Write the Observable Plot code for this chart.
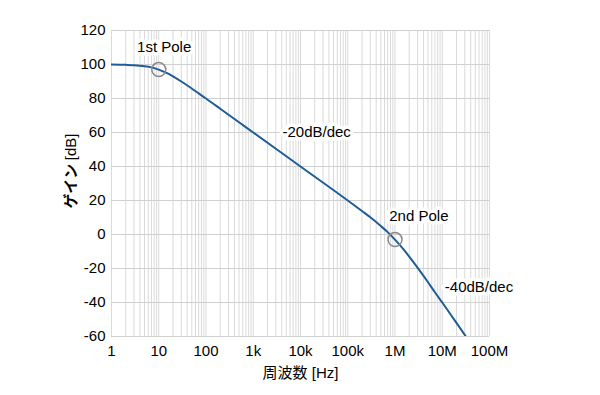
<!DOCTYPE html>
<html>
<head>
<meta charset="utf-8">
<script src="https://cdn.jsdelivr.net/npm/d3@7"></script>
<script src="https://cdn.jsdelivr.net/npm/@observablehq/plot@0.6"></script>
<style>
  html, body { margin: 0; padding: 0; background: #fff; }
</style>
</head>
<body>
<div id="chart"></div>
<script>
// Frequency response
const freq = [1, 2, 3, 5, 7, 10, 15, 20, 30, 50, 70, 100, 200, 500, 1000, 10000, 100000, 200000, 300000, 500000, 700000, 1000000, 1500000, 2000000, 3000000, 5000000, 7000000, 10000000, 20000000, 31600000];
const gain = [100, 99.8, 99.6, 99, 98.3, 97, 94.9, 93, 90, 85.9, 83, 80, 74, 66, 60, 40, 20, 13.8, 10.1, 5, 1.4, -3, -8.6, -13, -19.5, -28.1, -34, -40, -52, -60];

// Pole markers
const poleF = [10, 1000000];
const poleGain = [97, -3];

// Annotations
const annoText = ["1st Pole", "-20dB/dec", "2nd Pole", "-40dB/dec"];
const annoF = [13, 22000, 3200000, 60000000];
const annoGain = [110, 60, 11, -31];

// Axes
const xTicks = [1, 10, 100, 1e3, 1e4, 1e5, 1e6, 1e7, 1e8];
const xTickLabels = ["1", "10", "100", "1k", "10k", "100k", "1M", "10M", "100M"];
const yTicks = [-60, -40, -20, 0, 20, 40, 60, 80, 100, 120];
const xLabel = "周波数 [Hz]";
const yLabelMain = "ゲイン";
const yLabelUnit = "[dB]";

const curve = freq.map((f, i) => ({f, g: gain[i]}));
const poles = poleF.map((f, i) => ({f, g: poleGain[i]}));
const annos = annoText.map((t, i) => ({t, f: annoF[i], g: annoGain[i]}));
const minorTicks = d3.scaleLog().domain([1, 1e8]).ticks();

const chart = Plot.plot({
  width: 600,
  height: 395,
  marginLeft: 111,
  marginRight: 111,
  marginTop: 30,
  marginBottom: 59,
  style: {fontFamily: "'Liberation Sans', Arial, 'Noto Sans CJK JP', sans-serif", fontSize: "15px", color: "#000", background: "#fff"},
  x: {type: "log", domain: [1, 1e8]},
  y: {domain: [-60, 120]},
  marks: [
    Plot.gridX(minorTicks, {stroke: "#dadada", strokeOpacity: 1}),
    Plot.gridY(yTicks, {stroke: "#d0d0d0", strokeOpacity: 1}),
    Plot.axisX({ticks: xTicks, tickSize: 0, tickPadding: 9, tickFormat: d => xTickLabels[xTicks.indexOf(d)], label: null}),
    Plot.axisY({ticks: yTicks, tickSize: 0, tickPadding: 6, tickFormat: d => String(d), label: null}),
    Plot.text([xLabel], {frameAnchor: "bottom", dy: 41, fill: "#000", fontSize: 15}),
    Plot.text([yLabelMain], {frameAnchor: "left", rotate: -90, dx: -40, dy: 25, textAnchor: "start", fill: "#000", fontSize: 15, fontWeight: "bold"}),
    Plot.text([yLabelUnit], {frameAnchor: "left", rotate: -90, dx: -40, dy: -50, textAnchor: "end", fill: "#000", fontSize: 15}),
    Plot.line(curve, {x: "f", y: "g", stroke: "#1f5c99", strokeWidth: 2, curve: "monotone-x", clip: true}),
    Plot.dot(poles, {x: "f", y: "g", r: 7, stroke: "#8a8a8a", strokeWidth: 1.5, fill: "none"}),
    Plot.text(annos, {x: "f", y: "g", text: "t", fill: "#000", stroke: "white", strokeWidth: 7, fontSize: 15})
  ]
});
document.getElementById("chart").appendChild(chart);
</script>
</body>
</html>
